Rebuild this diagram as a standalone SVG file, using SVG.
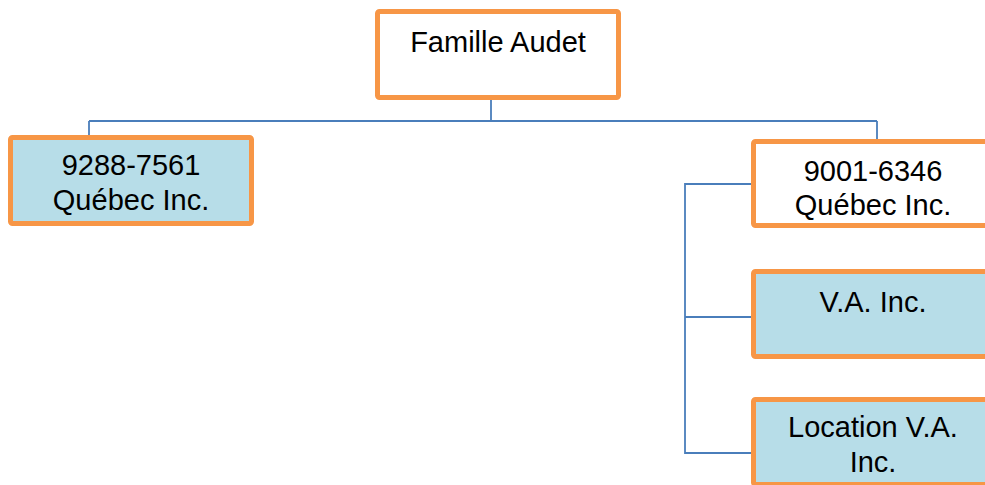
<svg xmlns="http://www.w3.org/2000/svg" width="985" height="485" viewBox="0 0 985 485">
<style>
.box{stroke:#F79646;stroke-width:5;}
.white{fill:#FFFFFF;}
.blue{fill:#B7DDE8;}
.conn{fill:none;stroke:#4A7EBB;stroke-width:1.8;}
text{font-family:"Liberation Sans",Arial,sans-serif;font-size:29px;fill:#000;text-anchor:middle;}
</style>
<rect width="985" height="485" fill="#FFFFFF"/>
<g id="connectors">
<path class="conn" d="M491,100 V121 M89,121 H877 M89,121 V135 M877,121 V139"/>
<path class="conn" d="M751,184 H685 V453 H751 M685,317 H751"/>
</g>
<g id="famille">
<rect class="box white" x="377.5" y="11.5" width="241" height="86" rx="2"/>
<text x="498" y="52">Famille Audet</text>
</g>
<g id="q9288">
<rect class="box blue" x="10.5" y="137.5" width="241" height="86" rx="2"/>
<text x="131" y="175">9288-7561</text>
<text x="131" y="210">Québec Inc.</text>
</g>
<g id="q9001">
<rect class="box white" x="753.5" y="141.5" width="241" height="84" rx="2"/>
<text x="873" y="181">9001-6346</text>
<text x="873" y="215">Québec Inc.</text>
</g>
<g id="va">
<rect class="box blue" x="753.5" y="271.5" width="241" height="85" rx="2"/>
<text x="873" y="312">V.A. Inc.</text>
</g>
<g id="locva">
<rect class="box blue" x="753.5" y="399.5" width="241" height="85" rx="2"/>
<text x="873" y="437">Location V.A.</text>
<text x="873" y="472">Inc.</text>
</g>
</svg>
